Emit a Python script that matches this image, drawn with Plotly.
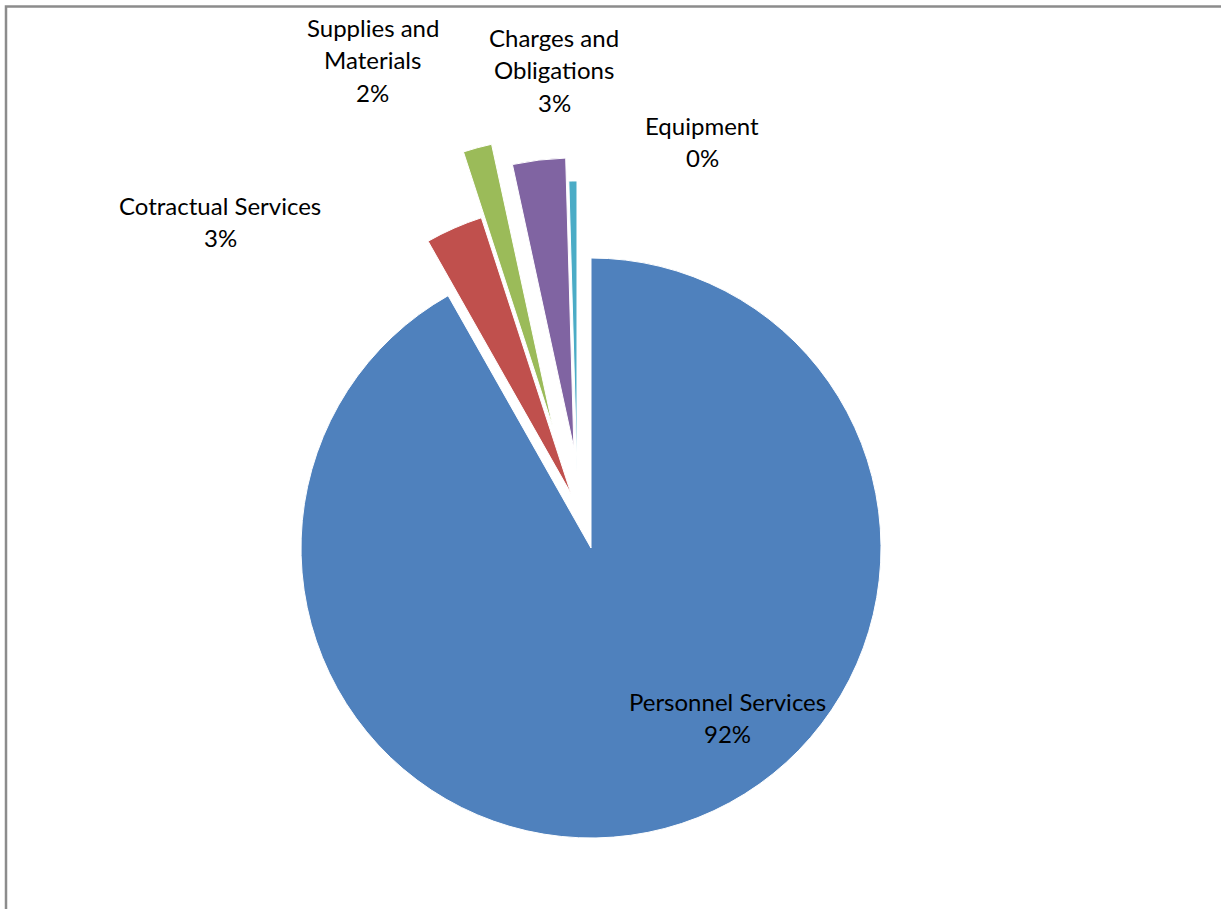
import math
import plotly.graph_objects as go

# Budget shares by expense category
categories = ["Personnel Services", "Cotractual Services", "Supplies and Materials",
              "Charges and Obligations", "Equipment"]
amounts = [91.8, 3.2, 1.6, 2.95, 0.45]

# How each category name is broken over lines in its label
label_lines = [["Personnel Services"], ["Cotractual Services"], ["Supplies and", "Materials"],
               ["Charges and", "Obligations"], ["Equipment"]]

colors = ["#4F81BD", "#C0504D", "#9BBB59", "#8064A2", "#4BACC6"]

# Exploded slices: distance (fraction of radius) and direction (degrees clockwise from 12 o'clock)
explode_dist = [0.0, 0.20, 0.435, 0.35, 0.27]
explode_dir = [0.0, 339.8, 342.5, 350.3, 349.7]

# Label anchor (px): centre x, centre y of first line
label_pos = [(727, 701), (220, 205), (373, 27), (554, 37), (702, 125)]
LINE_GAP = 32.5

W, H = 1221, 909
CX, CY, R = 591, 548, 290

total = sum(amounts)
percents = [f"{round(100 * v / total)}%" for v in amounts]

fig = go.Figure()

for i in range(len(categories)):
    ang = math.radians(explode_dir[i])
    cx = CX + explode_dist[i] * R * math.sin(ang)
    cy = CY - explode_dist[i] * R * math.cos(ang)
    slice_colors = [colors[j] if j == i else "rgba(0,0,0,0)" for j in range(len(categories))]
    line_widths = [1 if j == i else 0 for j in range(len(categories))]
    fig.add_trace(go.Pie(
        labels=categories,
        values=amounts,
        sort=False,
        direction="clockwise",
        rotation=0,
        textinfo="none",
        hoverinfo="label+percent",
        showlegend=False,
        marker=dict(colors=slice_colors, line=dict(color="white", width=line_widths)),
        domain=dict(x=[(cx - R) / W, (cx + R) / W],
                    y=[1 - (cy + R) / H, 1 - (cy - R) / H]),
    ))

annotations = []
for i in range(len(categories)):
    x0, y0 = label_pos[i]
    lines = label_lines[i] + [percents[i]]
    for k, txt in enumerate(lines):
        annotations.append(dict(
            text=txt, x=x0 / W, y=1 - (y0 + k * LINE_GAP) / H,
            xref="paper", yref="paper", xanchor="center", yanchor="middle",
            showarrow=False, font=dict(family="Lato", size=24, color="#000000"),
        ))

fig.update_layout(
    width=W, height=H,
    margin=dict(l=0, r=0, t=0, b=0),
    paper_bgcolor="white", plot_bgcolor="white",
    annotations=annotations,
    shapes=[dict(type="rect", xref="paper", yref="paper",
                 x0=6 / W, x1=1.05, y0=-0.05, y1=1 - 6.5 / H,
                 line=dict(color="#8c8c8c", width=2.5), fillcolor="rgba(0,0,0,0)")],
)

fig.write_html("out.html")
